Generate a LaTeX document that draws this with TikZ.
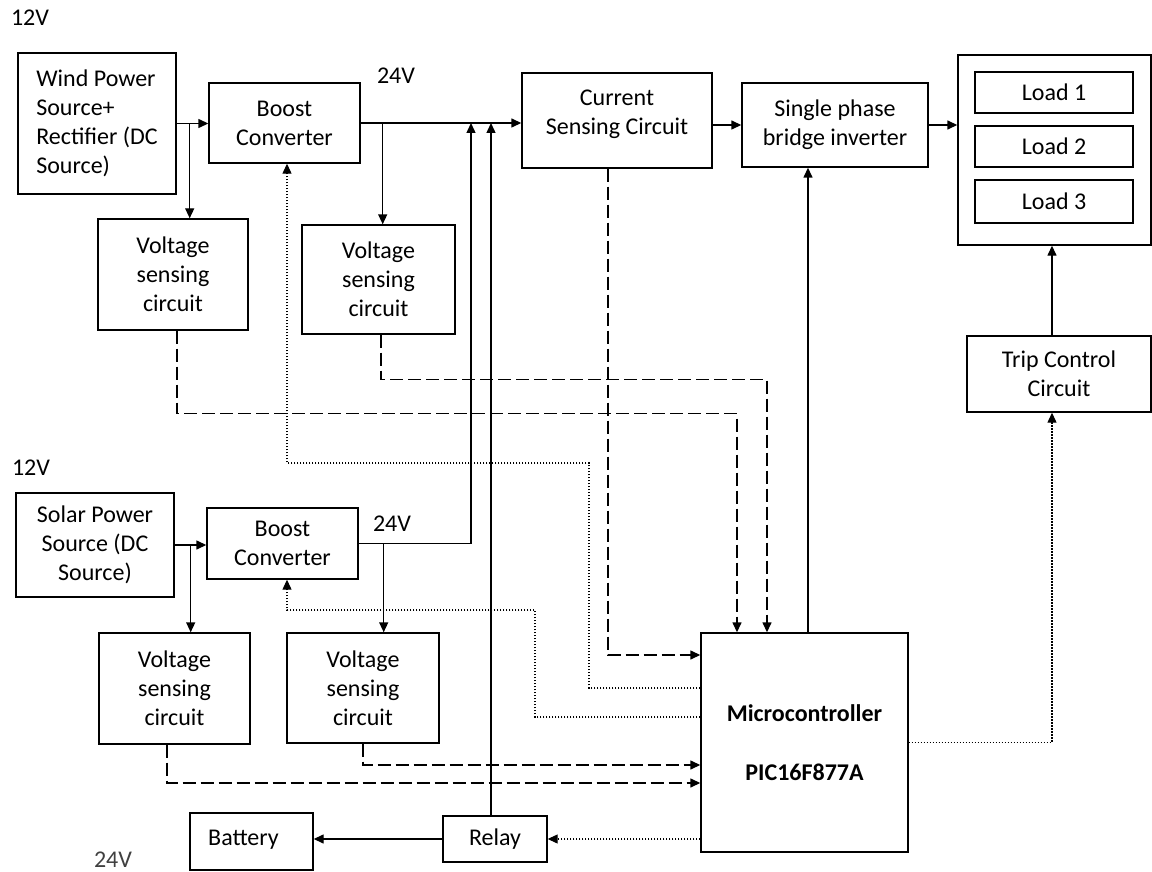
\documentclass[tikz,border=0pt]{standalone}
\usepackage{fontspec}
\setmainfont{Carlito}
\usetikzlibrary{arrows.meta,calc}

\begin{document}
\begin{tikzpicture}[x=0.5pt,y=-0.5pt,
  every node/.style={font=\fontsize{12}{14.5}\selectfont},
  box/.style={draw, line width=0.7pt, inner sep=0pt, align=center},
  area/.style n args={4}{minimum width={(#3-#1)*0.5pt}, minimum height={(#4-#2)*0.5pt},
    at={({(#1+#3)/2},{(#2+#4)/2})}},
  wire/.style={line width=0.7pt},
  arr/.style={wire, -{Triangle[length=5pt,width=4.5pt]}},
  dasharr/.style={arr, dash pattern=on 6.5pt off 2.5pt},
  ctl/.style={line width=0.6pt, dash pattern=on 0.8pt off 0.7pt},
  ctlarr/.style={ctl, -{Triangle[length=5pt,width=4.5pt]}},
  vlabel/.style={inner sep=0pt},
]
\useasboundingbox (0,0) rectangle (1152,872);

% wind branch
\node[box, align=left, area={18}{53}{176}{194}] (wind) {Wind Power\\Source+\\Rectifier (DC\\Source)};
\node[box, area={209}{83}{360}{163}] (boost1) {Boost\\Converter};
\node[box, area={98}{219}{248}{330}] (vs1) {Voltage\\sensing\\circuit};
\node[box, area={302}{225}{455}{334}] (vs2) {Voltage\\sensing\\circuit};

% DC bus, inverter and loads
\node[box, area={522}{73}{712}{168}] (cur) {Current\\Sensing Circuit\\[-6pt]\mbox{}};
\node[box, area={742}{83}{928}{167}] (inv) {Single phase\\bridge inverter};
\node[box, area={958}{55}{1151}{245}] (loads) {};
\node[box, area={975}{72}{1133}{113}] (load1) {Load 1};
\node[box, area={975}{126}{1133}{167}] (load2) {Load 2};
\node[box, area={975}{180}{1133}{223}] (load3) {Load 3};
\node[box, area={967}{336}{1151}{412}] (trip) {Trip Control\\Circuit};

% solar branch
\node[box, area={16}{493}{174}{597}] (solar) {Solar Power\\Source (DC\\Source)};
\node[box, area={207}{508}{358}{579}] (boost2) {Boost\\Converter};
\node[box, area={99}{633}{250}{744}] (vs3) {Voltage\\sensing\\circuit};
\node[box, area={287}{633}{439}{743}] (vs4) {Voltage\\sensing\\circuit};

% controller, relay and battery
\node[box, area={701}{633}{908}{852}] (micro) {\textbf{Microcontroller}\\[15pt]\textbf{PIC16F877A}};
\node[box, area={443}{816}{547}{862}] (relay) {Relay};
\node[box, area={190}{813}{313}{870}] (battery) {\hspace*{-8pt}Battery\\[-10.5pt]\mbox{}};

% voltage levels
\node[vlabel] (v12a) at (30,18) {12V};
\node[vlabel] (v24a) at (396,76) {24V};
\node[vlabel] (v12b) at (31,468) {12V};
\node[vlabel] (v24b) at (392,524) {24V};
\node[vlabel, text=black!75] (v24c) at (113,860) {24V};

% junctions
\coordinate (tapA) at (471,123);
\coordinate (tapB) at (491,123);
\coordinate (c1) at (589,463);
\coordinate (c2) at (535,610);
\coordinate (wj) at ($(wind.east)+(13,0)$);
\coordinate (bj1) at ($(boost1.east)+(22,0)$);
\coordinate (sj) at ($(solar.east)+(16,0)$);
\coordinate (bj2) at ($(boost2.east)+(25,0)$);

% power path
\draw[arr] (wind.east) -- (wind.east -| boost1.west);
\draw[arr] (wj) -- (wj |- vs1.north);
\draw[arr] (boost1.east) -- (boost1.east -| cur.west);
\draw[arr] (bj1) -- (bj1 |- vs2.north);
\draw[arr] (inv.west -| cur.east) -- (inv.west);
\draw[arr] (inv.east) -- (inv.east -| loads.west);
\draw[arr] ([xshift=-3.5pt]trip.north) -- ([xshift=-3.5pt]trip.north |- loads.south);

\draw[arr] (solar.east) -- (solar.east -| boost2.west);
\draw[arr] (sj) -- (sj |- vs3.north);
\draw[arr] (boost2.east) -| (tapA);
\draw[arr] (bj2) -- (bj2 |- vs4.north);
\draw[arr] ([xshift=-2pt]relay.north) -- (tapB);
\draw[arr] (relay.west) -- (relay.west -| battery.east);

% sensing signals to the controller
\draw[dasharr] ([xshift=2pt]vs1.south) -- ++(0,83) -| ([xshift=-33.75pt]micro.north);
\draw[dasharr] ([xshift=1.25pt]vs2.south) -- ++(0,45) -| ([xshift=-18.75pt]micro.north);
\draw[dasharr] ([xshift=-4.5pt]cur.south) |- ([yshift=43.75pt]micro.west);
\draw[dasharr] ([xshift=-3.75pt]vs3.south) |- ([yshift=-20.25pt]micro.west);
\draw[dasharr] (vs4.south) |- ([yshift=-11.25pt]micro.west);

% control outputs of the controller
\draw[arr] ([xshift=1.75pt]micro.north) -- ([xshift=1.75pt]micro.north |- inv.south);
\draw[ctlarr] ([yshift=27.25pt]micro.west) -| (c1) -| ([xshift=1.25pt]boost1.south);
\draw[ctlarr] ([yshift=12.75pt]micro.west) -| (c2) -| ([xshift=2.25pt]boost2.south);
\draw[ctlarr] (micro.east) -| ([xshift=-3.5pt]trip.south);
\draw[ctlarr] (relay.east -| micro.west) -- (relay.east);
\end{tikzpicture}
\end{document}
